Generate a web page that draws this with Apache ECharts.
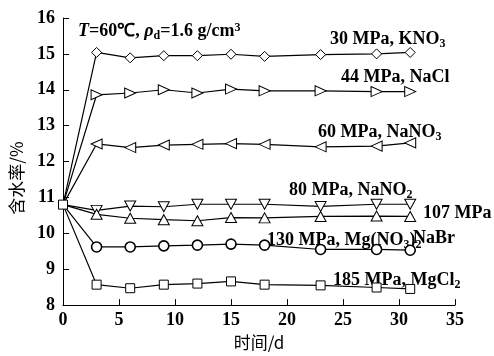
<!DOCTYPE html>
<html>
<head>
<meta charset="utf-8">
<script src="https://cdn.jsdelivr.net/npm/echarts@6/dist/echarts.min.js"></script>
<style>
  html, body { margin: 0; padding: 0; background: #fff; }
  #chart { width: 494px; height: 356px; }
</style>
</head>
<body>
<div id="chart"></div>
<script>
// Soaking time (days) and measured water content (%) for each salt solution
var days = [0, 3, 6, 9, 12, 15, 18, 23, 28, 31];
var xTicks = [0, 5, 10, 15, 20, 25, 30, 35];
var yTicks = [8, 9, 10, 11, 12, 13, 14, 15, 16];

var kno3  = [10.80, 15.04, 14.89, 14.95, 14.95, 14.99, 14.93, 14.98, 15.00, 15.04];
var nacl  = [10.80, 13.86, 13.91, 14.00, 13.91, 14.02, 13.97, 13.97, 13.95, 13.95];
var nano3 = [10.80, 12.49, 12.39, 12.46, 12.48, 12.50, 12.48, 12.41, 12.43, 12.52];
var nano2 = [10.80, 10.64, 10.76, 10.74, 10.81, 10.81, 10.81, 10.75, 10.81, 10.81];
var nabr  = [10.80, 10.53, 10.42, 10.38, 10.35, 10.44, 10.43, 10.47, 10.48, 10.47];
var mgno3 = [10.80, 9.62, 9.62, 9.65, 9.67, 9.70, 9.67, 9.55, 9.55, 9.53];
var mgcl2 = [10.80, 8.57, 8.47, 8.57, 8.60, 8.66, 8.57, 8.55, 8.49, 8.45];

var SERIF = '"Liberation Serif", "Times New Roman", serif';
var CJK = '"Noto Sans CJK SC", sans-serif';

// pair days with values; the shared starting point only shows the square marker
function pairs(vals, hideFirst) {
  return vals.map(function (v, i) {
    var item = { value: [days[i], v] };
    if (i === 0 && hideFirst) item.symbol = 'none';
    return item;
  });
}

function series(name, vals, symbol, size, rotate, hideFirst, bw) {
  return {
    name: name,
    type: 'line',
    data: pairs(vals, hideFirst),
    symbol: symbol,
    symbolSize: size,
    symbolRotate: rotate,
    showAllSymbol: true,
    lineStyle: { color: '#000', width: 1.2 },
    itemStyle: { color: '#fff', borderColor: '#000', borderWidth: bw || 1 },
    emphasis: { disabled: true },
    animation: false,
    z: hideFirst ? 2 : 3
  };
}

// rich text styles for the annotations
var base = { fontFamily: SERIF, fontSize: 18, fontWeight: 'bold', lineHeight: 18, verticalAlign: 'top', fill: '#000' };
function tok(extra) { return Object.assign({}, base, extra || {}); }
var rich = {
  n: tok(),
  sub: tok({ fontSize: 12, lineHeight: 12, padding: [8, 0, 0, 0] }),
  sup: tok({ fontSize: 12, lineHeight: 12, padding: [0, 0, 0, 0] }),
  it: tok({ fontStyle: 'italic' })
};

function note(x, y, text) {
  return {
    type: 'text',
    x: x,
    y: y,
    silent: true,
    style: {
      text: text,
      rich: rich,
      font: 'bold 18px ' + SERIF,
      fill: '#000',
      align: 'left',
      verticalAlign: 'top'
    }
  };
}

var chart = echarts.init(document.getElementById('chart'), null, { renderer: 'canvas' });
chart.setOption({
  backgroundColor: '#fff',
  animation: false,
  grid: { left: 63, right: 39, top: 18, bottom: 44, containLabel: false },
  xAxis: {
    type: 'value',
    min: xTicks[0],
    max: xTicks[xTicks.length - 1],
    interval: 5,
    name: '时间/d',
    nameLocation: 'middle',
    nameGap: 28,
    nameTextStyle: { fontFamily: CJK, fontSize: 17, color: '#000', verticalAlign: 'top' },
    axisLine: { lineStyle: { color: '#000', width: 1 } },
    axisTick: { inside: true, length: 6, lineStyle: { color: '#000', width: 1 } },
    axisLabel: { color: '#000', fontFamily: SERIF, fontSize: 18, fontWeight: 'bold', margin: 6 },
    splitLine: { show: false }
  },
  yAxis: {
    type: 'value',
    min: yTicks[0],
    max: yTicks[yTicks.length - 1],
    interval: 1,
    axisLine: { show: true, lineStyle: { color: '#000', width: 1 } },
    axisTick: { show: true, inside: true, length: 6, lineStyle: { color: '#000', width: 1 } },
    axisLabel: { color: '#000', fontFamily: SERIF, fontSize: 18, fontWeight: 'bold', margin: 8 },
    splitLine: { show: false }
  },
  series: [
    series('30 MPa, KNO3', kno3, 'diamond', [10, 10], 0, true),
    series('44 MPa, NaCl', nacl, 'triangle', [10, 11], -90, true),
    series('60 MPa, NaNO3', nano3, 'triangle', [10, 11], 90, true),
    series('80 MPa, NaNO2', nano2, 'triangle', [11, 10], 180, true),
    series('107 MPa, NaBr', nabr, 'triangle', [11, 10], 0, true),
    series('130 MPa, Mg(NO3)2', mgno3, 'circle', 10, 0, true, 1.6),
    series('185 MPa, MgCl2', mgcl2, 'rect', 9, 0, false)
  ],
  graphic: [
    note(78, 22, '{it|T}{n|=60℃, }{it|ρ}{sub|d}{n|=1.6 g/cm}{sup|3}'),
    note(330, 30, '{n|30 MPa, KNO}{sub|3}'),
    note(341, 68, '{n|44 MPa, NaCl}'),
    note(318, 123, '{n|60 MPa, NaNO}{sub|3}'),
    note(289, 181, '{n|80 MPa, NaNO}{sub|2}'),
    note(423, 204, '{n|107 MPa}'),
    note(413, 229, '{n|NaBr}'),
    note(267, 231, '{n|130 MPa, Mg(NO}{sub|3}{n|)}{sub|2}'),
    note(333, 271, '{n|185 MPa, MgCl}{sub|2}'),
    {
      type: 'text',
      x: 17,
      y: 178,
      rotation: Math.PI / 2,
      silent: true,
      style: {
        text: '含水率/%',
        font: '17px ' + CJK,
        fill: '#000',
        align: 'center',
        verticalAlign: 'middle'
      }
    }
  ]
});
</script>
</body>
</html>
